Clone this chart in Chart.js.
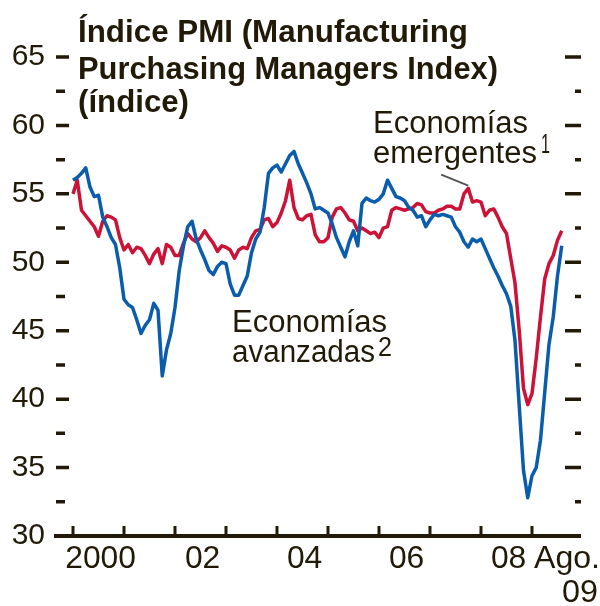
<!DOCTYPE html>
<html>
<head>
<meta charset="utf-8">
<script src="https://cdn.jsdelivr.net/npm/chart.js@4.4.0/dist/chart.umd.min.js"></script>
<style>
  html, body { margin: 0; padding: 0; background: #fff; }
  #wrap { width: 600px; height: 606px; position: relative; }
</style>
</head>
<body>
<div id="wrap"><canvas id="pmi"></canvas></div>
<script>
// monthly values, Jan 2000 .. Aug 2009 (x = months since Jan 2000)
const advanced = [
  56.0, 56.2, 56.5, 56.9, 55.5, 54.8, 54.9, 53.3, 52.6, 51.8, 51.3, 49.6,
  47.3, 46.9, 46.7, 45.8, 44.8, 45.4, 45.8, 47.0, 46.5, 41.7, 43.6, 44.8,
  46.7, 49.4, 51.2, 52.6, 53.0, 51.7, 50.9, 50.2, 49.4, 49.1, 49.7, 50.0,
  49.9, 48.4, 47.6, 47.6, 48.3, 49.0, 50.7, 51.7, 52.2, 54.0, 56.5, 56.9,
  57.1, 56.6, 57.2, 57.8, 58.1, 57.2, 56.5, 55.8, 55.0, 53.9, 54.0, 53.8,
  53.6, 52.8, 51.8, 51.1, 50.4, 51.5, 52.3, 51.2, 54.3, 54.7, 54.5, 54.4,
  54.6, 55.0, 56.0, 55.4, 54.8, 54.7, 54.5, 54.0, 53.8, 53.3, 53.4, 52.6,
  53.1, 53.5, 53.4, 53.5, 53.4, 53.3, 52.6, 52.2, 51.5, 51.1, 51.7, 51.5,
  51.7, 51.0, 50.3, 49.6, 49.0, 48.3, 47.7, 46.8, 44.3, 39.5, 34.8, 32.8,
  34.4, 35.0, 37.0, 40.5, 44.0, 46.0, 49.0, 51.2
];
const emerging = [
  55.0, 56.0, 53.8, 53.4, 53.0, 52.6, 51.9, 53.0, 53.4, 53.3, 53.1, 51.8,
  50.9, 51.3, 50.7, 51.1, 51.0, 50.5, 49.9, 50.6, 51.0, 49.9, 51.3, 51.1,
  50.5, 50.5, 51.4, 52.1, 51.7, 51.5, 51.8, 52.3, 51.8, 51.4, 50.8, 51.2,
  51.1, 50.9, 50.3, 50.9, 51.1, 51.0, 51.8, 52.3, 52.4, 53.1, 53.2, 52.6,
  52.9, 53.6, 54.5, 56.0, 54.0, 53.2, 53.1, 53.4, 53.5, 52.0, 51.5, 51.5,
  51.8, 53.3, 53.9, 54.0, 53.6, 53.1, 53.0, 52.3, 52.5, 52.3, 52.1, 52.2,
  51.8, 52.5, 52.6, 53.8, 54.0, 53.9, 53.8, 53.9, 54.0, 54.3, 54.2, 53.7,
  53.6, 53.6, 53.8, 53.9, 54.1, 54.1, 53.9, 53.9, 55.0, 55.4, 54.4, 54.5,
  54.4, 53.4, 53.8, 53.9, 53.3, 52.6, 52.1, 50.3, 48.5, 45.0, 40.8, 39.6,
  40.4, 43.0, 46.0, 48.8, 49.9, 50.5, 51.6, 52.3
];
const yearTickMonths = [0, 12, 24, 36, 48, 60, 72, 84, 96, 108];
const yearLabels = ['2000', '02', '04', '06', '08'];
const yearLabelMonths = [6.5, 30.5, 54.5, 78.5, 102.5];
const yMinorTicks = [30, 32.5, 35, 37.5, 40, 42.5, 45, 47.5, 50, 52.5, 55, 57.5, 60, 62.5, 65];

const INK = '#221a08';
const BLUE = '#0a5cad';
const RED = '#cc1236';
const SANS = "'Liberation Sans', Arial, sans-serif";

// draw text squeezed/stretched to a target width
function fitText(ctx, text, x, y, w, font) {
    ctx.save();
    ctx.font = font;
    const m = ctx.measureText(text).width;
    ctx.translate(x, y);
    ctx.scale(w / m, 1);
    ctx.fillText(text, 0, 0);
    ctx.restore();
}

const decor = {
    id: 'decor',
    afterDraw(chart) {
        const ctx = chart.ctx;
        const xs = chart.scales.x, ys = chart.scales.y;
        const L = chart.chartArea.left, R = chart.chartArea.right, B = chart.chartArea.bottom;
        ctx.save();
        ctx.strokeStyle = INK;
        ctx.fillStyle = INK;
        ctx.lineWidth = 3.5;
        // y ticks, inside on both sides
        yMinorTicks.forEach(v => {
            if (v === 30) return;
            const y = ys.getPixelForValue(v);
            const major = v % 5 === 0;
            ctx.beginPath();
            ctx.moveTo(L, y); ctx.lineTo(L + (major ? 13 : 9), y);
            ctx.moveTo(R + 1, y); ctx.lineTo(R + 1 - (major ? 16 : 6), y);
            ctx.stroke();
        });
        // year ticks
        ctx.lineWidth = 3;
        yearTickMonths.forEach(m => {
            const x = xs.getPixelForValue(m);
            ctx.beginPath();
            ctx.moveTo(x, B); ctx.lineTo(x, B - 10);
            ctx.stroke();
        });
        // year labels
        ctx.textBaseline = 'alphabetic';
        const tickFont = '32px ' + SANS;
        yearLabels.forEach((t, i) => {
            const x = xs.getPixelForValue(yearLabelMonths[i]);
            const w = t.length * 17.7;
            fitText(ctx, t, x - w / 2, 568, w, tickFont);
        });
        fitText(ctx, 'Ago.', 534, 568, 66, tickFont);
        fitText(ctx, '09', 562, 602, 36, tickFont);

        // title
        const bold = 'bold 32px ' + SANS;
        fitText(ctx, 'Índice PMI (Manufacturing', 78, 42, 390, bold);
        fitText(ctx, 'Purchasing Managers Index)', 78, 79, 420, bold);
        fitText(ctx, '(índice)', 78, 112, 111, bold);

        // series labels
        const reg = '31px ' + SANS;
        fitText(ctx, 'Economías', 373, 133, 155, reg);
        fitText(ctx, 'emergentes', 373, 163, 164, reg);
        fitText(ctx, '1', 541, 153, 9, '28px ' + SANS);
        fitText(ctx, 'Economías', 232, 332, 155, reg);
        fitText(ctx, 'avanzadas', 232, 362, 143, reg);
        fitText(ctx, '2', 378, 356, 14, '28px ' + SANS);

        // leader to emerging series
        ctx.strokeStyle = '#555';
        ctx.lineWidth = 2;
        const px = xs.getPixelForValue(93), py = ys.getPixelForValue(55.6);
        ctx.beginPath();
        ctx.moveTo(px - 27, py - 11); ctx.lineTo(px, py);
        ctx.stroke();
        ctx.restore();
    }
};

new Chart(document.getElementById('pmi'), {
    type: 'line',
    data: {
        datasets: [
            {
                label: 'Economías avanzadas',
                data: advanced.map((v, i) => ({ x: i, y: v })),
                borderColor: BLUE,
                borderWidth: 3.5,
                pointRadius: 0,
                tension: 0,
                borderJoinStyle: 'round',
                order: 0
            },
            {
                label: 'Economías emergentes',
                data: emerging.map((v, i) => ({ x: i, y: v })),
                borderColor: RED,
                borderWidth: 3.5,
                pointRadius: 0,
                tension: 0,
                borderJoinStyle: 'round',
                order: 1
            }
        ]
    },
    options: {
        responsive: true,
        maintainAspectRatio: false,
        animation: false,
        devicePixelRatio: 1,
        layout: { padding: { top: 57, right: 20, left: 0, bottom: 0 } },
        plugins: { legend: { display: false }, tooltip: { enabled: false } },
        scales: {
            x: {
                type: 'linear',
                min: -4,
                max: 119.3,
                ticks: { display: false },
                grid: { display: false, drawTicks: false },
                border: { display: true, color: INK, width: 4 },
                afterFit: s => { s.height = 70; }
            },
            y: {
                min: 30,
                max: 65,
                ticks: {
                    stepSize: 5,
                    padding: 11,
                    color: INK,
                    font: { family: SANS, size: 30 }
                },
                grid: { display: false, drawTicks: false },
                border: { display: false },
                afterFit: s => { s.width = 56; }
            }
        }
    },
    plugins: [decor]
});
</script>
</body>
</html>
